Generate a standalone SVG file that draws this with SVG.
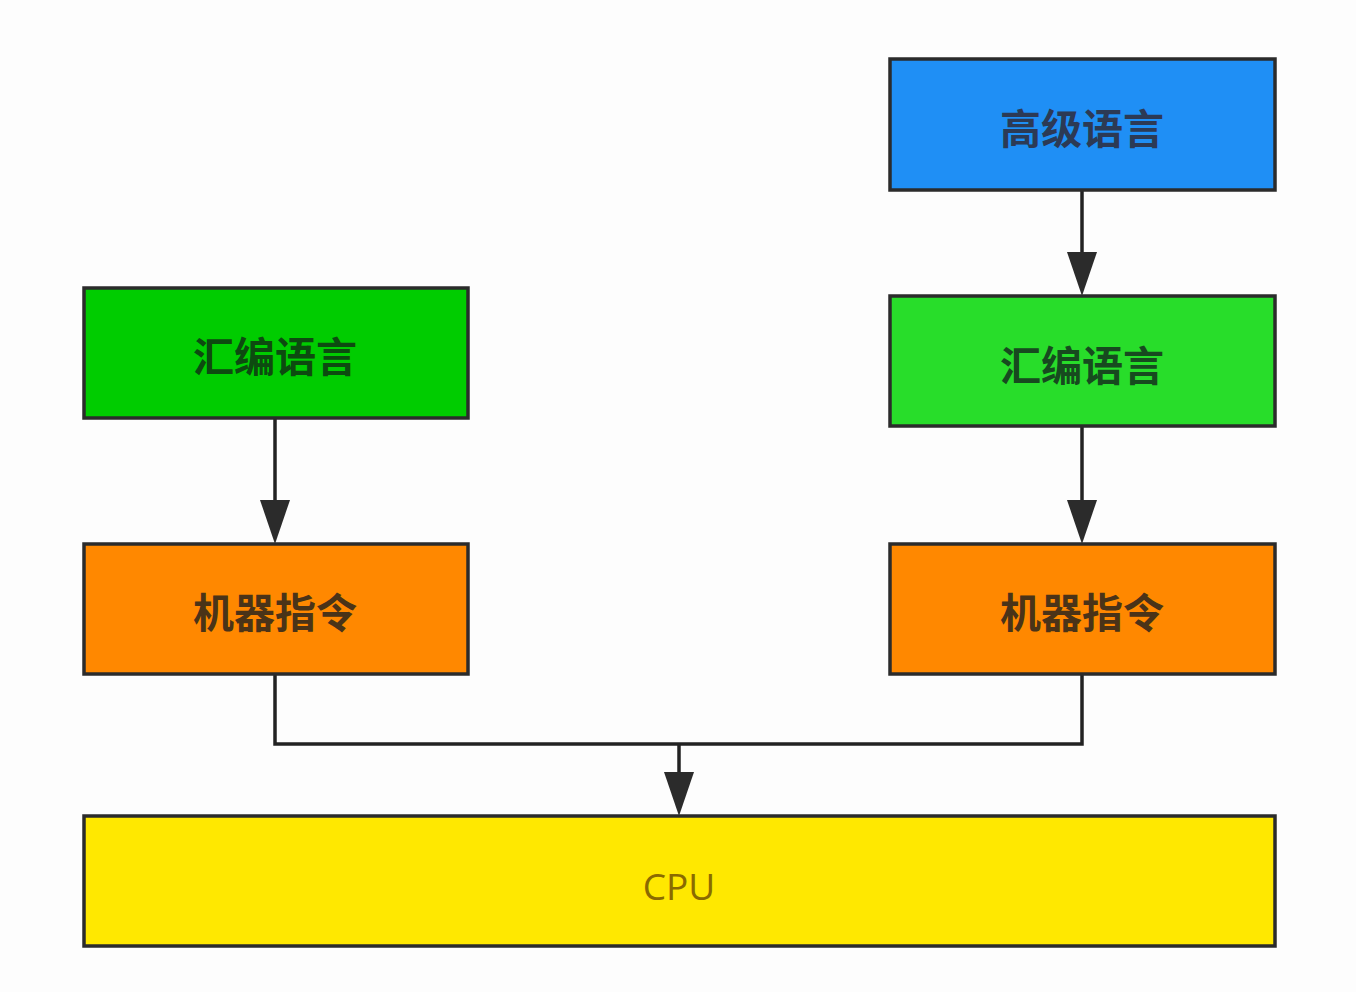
<svg xmlns="http://www.w3.org/2000/svg" width="1356" height="992" viewBox="0 0 1356 992">
<defs>
<style>
.box{stroke:#2b2b2b;stroke-width:3.5}
.lbl{font-family:"Noto Sans CJK SC","Noto Sans",sans-serif;font-size:41px;font-weight:bold;text-anchor:middle;dominant-baseline:central}
.con{fill:none;stroke:#222;stroke-width:3.5}
.head{fill:#2b2b2b}
</style>
</defs>
<rect x="0" y="0" width="1356" height="992" fill="#fdfdfd"/>
<g id="connectors">
<line class="con" x1="1082" y1="190" x2="1082" y2="252"/>
<path class="head" d="M1067,252 L1097,252 L1082,296 Z"/>
<line class="con" x1="275" y1="418" x2="275" y2="500"/>
<path class="head" d="M260,500 L290,500 L275,544 Z"/>
<line class="con" x1="1082" y1="426" x2="1082" y2="500"/>
<path class="head" d="M1067,500 L1097,500 L1082,544 Z"/>
<path class="con" d="M275,674 V744 H1082 V674"/>
<line class="con" x1="679" y1="744" x2="679" y2="772"/>
<path class="head" d="M664,772 L694,772 L679,816 Z"/>
</g>
<g id="high">
<rect class="box" x="890" y="59" width="385" height="131" fill="#1f8ff5"/>
<text class="lbl" x="1082" y="126" fill="#2c3a55">高级语言</text>
</g>
<g id="asm-left">
<rect class="box" x="84" y="288" width="384" height="130" fill="#00cc00"/>
<text class="lbl" x="275" y="354" fill="#0d4a10">汇编语言</text>
</g>
<g id="asm-right">
<rect class="box" x="890" y="296" width="385" height="130" fill="#28dd2a"/>
<text class="lbl" x="1082" y="363" fill="#174a1f">汇编语言</text>
</g>
<g id="mach-left">
<rect class="box" x="84" y="544" width="384" height="130" fill="#ff8800"/>
<text class="lbl" x="275" y="610" fill="#4a3318">机器指令</text>
</g>
<g id="mach-right">
<rect class="box" x="890" y="544" width="385" height="130" fill="#ff8800"/>
<text class="lbl" x="1082" y="610" fill="#4a3318">机器指令</text>
</g>
<g id="cpu">
<rect class="box" x="84" y="816" width="1191" height="130" fill="#ffe800"/>
<text x="679" y="885" font-family="'Open Sans','Noto Sans',sans-serif" font-size="37" fill="#8a6a00" text-anchor="middle" dominant-baseline="central">CPU</text>
</g>
</svg>
